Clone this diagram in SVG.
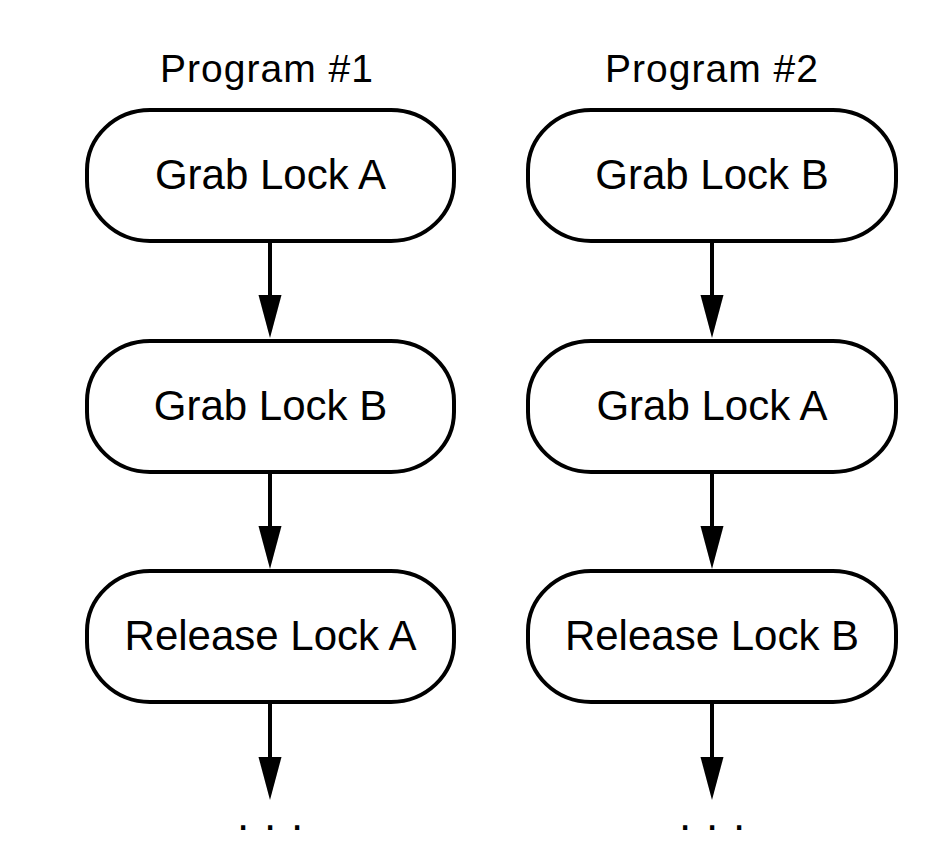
<svg xmlns="http://www.w3.org/2000/svg" width="950" height="860" viewBox="0 0 950 860">
<style>
  .node rect { fill: #ffffff; stroke: #000000; stroke-width: 4; }
  .label { font-family: "Liberation Sans", Arial, sans-serif; font-size: 42px; fill: #000000; text-anchor: middle; }
  .title { font-family: "Liberation Sans", Arial, sans-serif; font-size: 39px; letter-spacing: 1px; fill: #000000; text-anchor: middle; }
  .dots { font-family: "Liberation Sans", Arial, sans-serif; font-size: 44px; fill: #000000; }
  .edge { stroke: #000000; stroke-width: 4; fill: none; }
</style>
<rect width="950" height="860" fill="#ffffff"/>

<g id="titles">
  <text class="title" x="267" y="82">Program #1</text>
  <text class="title" x="712" y="82">Program #2</text>
</g>

<g id="connectors">
  <line class="edge" x1="270" y1="243" x2="270" y2="296"/>
  <path d="M258.5,295 L281.5,295 L270,338 Z" fill="#000"/>
  <line class="edge" x1="270" y1="473" x2="270" y2="527"/>
  <path d="M258.5,526 L281.5,526 L270,569 Z" fill="#000"/>
  <line class="edge" x1="270" y1="703" x2="270" y2="758"/>
  <path d="M258.5,757 L281.5,757 L270,800 Z" fill="#000"/>
  <line class="edge" x1="712" y1="243" x2="712" y2="296"/>
  <path d="M700.5,295 L723.5,295 L712,338 Z" fill="#000"/>
  <line class="edge" x1="712" y1="473" x2="712" y2="527"/>
  <path d="M700.5,526 L723.5,526 L712,569 Z" fill="#000"/>
  <line class="edge" x1="712" y1="703" x2="712" y2="758"/>
  <path d="M700.5,757 L723.5,757 L712,800 Z" fill="#000"/>
</g>

<g id="p1-grab-a" class="node">
  <rect x="87" y="110" width="367" height="131" rx="63" ry="60"/>
  <text class="label" x="270.5" y="189">Grab Lock A</text>
</g>
<g id="p1-grab-b" class="node">
  <rect x="87" y="341" width="367" height="131" rx="63" ry="60"/>
  <text class="label" x="270.5" y="420">Grab Lock B</text>
</g>
<g id="p1-release-a" class="node">
  <rect x="87" y="571" width="367" height="131" rx="63" ry="60"/>
  <text class="label" x="270.5" y="650">Release Lock A</text>
</g>
<g id="p2-grab-b" class="node">
  <rect x="528" y="110" width="368" height="131" rx="63" ry="60"/>
  <text class="label" x="712" y="189">Grab Lock B</text>
</g>
<g id="p2-grab-a" class="node">
  <rect x="528" y="341" width="368" height="131" rx="63" ry="60"/>
  <text class="label" x="712" y="420">Grab Lock A</text>
</g>
<g id="p2-release-b" class="node">
  <rect x="528" y="571" width="368" height="131" rx="63" ry="60"/>
  <text class="label" x="712" y="650">Release Lock B</text>
</g>

<g id="ellipses">
  <text class="dots" x="237 250 264 277 291" y="830">. . .</text>
  <text class="dots" x="679 692 706 719 733" y="830">. . .</text>
</g>
</svg>
